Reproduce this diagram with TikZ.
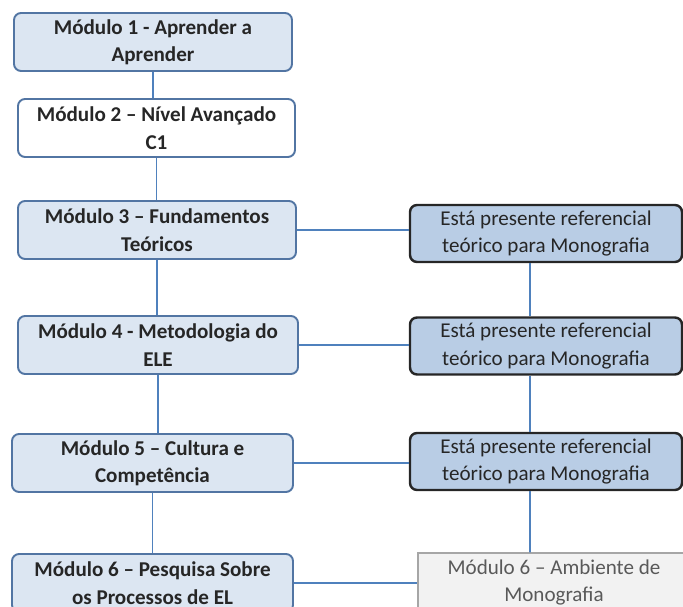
\documentclass[tikz,border=0pt]{standalone}
\usepackage{fontspec}
\setmainfont{Carlito}
\usetikzlibrary{positioning}
\definecolor{modfill}{HTML}{DCE6F2}
\definecolor{modedge}{HTML}{5275A3}
\definecolor{reffill}{HTML}{B9CDE5}
\definecolor{refedge}{HTML}{262626}
\definecolor{monofill}{HTML}{F2F2F2}
\definecolor{monoedge}{HTML}{A6A6A6}
\definecolor{linkblue}{HTML}{4F81BD}

\begin{document}
\begin{tikzpicture}[
    x=0.02cm, y=-0.02cm,
    % ── shared styles ──
    mod box/.style={draw=modedge, fill=modfill, line width=1.1pt,
        rounded corners=4pt, align=center, inner sep=2pt,
        font=\fontsize{12}{15.6}\selectfont\bfseries, text=black!85,
        minimum width=#1*0.02cm, minimum height=1.16cm},
    ref box/.style={draw=refedge, fill=reffill, line width=1.4pt,
        rounded corners=4pt, align=center, inner sep=2pt,
        font=\fontsize{12}{15.6}\selectfont, text=black!85,
        minimum width=272*0.02cm, minimum height=1.14cm},
    mono box/.style={draw=monoedge, fill=monofill, line width=0.6pt,
        align=center, inner sep=2pt,
        font=\fontsize{12}{15.6}\selectfont, text=black!65,
        minimum width=272*0.02cm, minimum height=1.18cm},
    link/.style={draw=linkblue, line width=1pt},
]

% ══════════════════════════════════════════════════════════════════════
%  FRAME — picture area, boxes run off the right and bottom edges
% ══════════════════════════════════════════════════════════════════════
\useasboundingbox (0,0) rectangle (683,607);
\clip (0,0) rectangle (683,607);

% ══════════════════════════════════════════════════════════════════════
%  MODULES (left column)
% ══════════════════════════════════════════════════════════════════════
\node[mod box=278] (m1) at (153,42)  {Módulo 1 - Aprender a\\Aprender};
\node[mod box=277, fill=white] (m2) at (156.5,128) {Módulo 2 – Nível Avançado\\C1};
\node[mod box=278] (m3) at (157,230) {Módulo 3 – Fundamentos\\Teóricos};
\node[mod box=280] (m4) at (158,345) {Módulo 4 - Metodologia do\\ELE};
\node[mod box=281] (m5) at (152.5,463) {Módulo 5 – Cultura e\\Competência};
\node[mod box=281] (m6) at (152.5,583) {Módulo 6 – Pesquisa Sobre\\os Processos de EL};

% ══════════════════════════════════════════════════════════════════════
%  MONOGRAPH COLUMN (right)
% ══════════════════════════════════════════════════════════════════════
\node[ref box] (r1) at (546,233.5) {Está presente referencial\\teórico para Monografia};
\node[ref box] (r2) at (546,346)   {Está presente referencial\\teórico para Monografia};
\node[ref box] (r3) at (546,461.5) {Está presente referencial\\teórico para Monografia};
\node[mono box] (r4) at (554,582.5) {Módulo 6 – Ambiente de\\Monografia};

% ══════════════════════════════════════════════════════════════════════
%  CONNECTORS
% ══════════════════════════════════════════════════════════════════════
\draw[link] (m1.south) -- (m1.south |- m2.north);
\draw[link] (m2.south) -- (m2.south |- m3.north);
\draw[link] (m3.south) -- (m3.south |- m4.north);
\draw[link] (m4.south) -- (m4.south |- m5.north);
\draw[link] (m5.south) -- (m5.south |- m6.north);

\draw[link] (m3.east) -- (m3.east -| r1.west);
\draw[link] (m4.east) -- (m4.east -| r2.west);
\draw[link] (m5.east) -- (m5.east -| r3.west);
\draw[link] (m6.east) -- (m6.east -| r4.west);

\draw[link] ([xshift=-0.32cm]r1.south) -- ([xshift=-0.32cm]r2.north);
\draw[link] ([xshift=-0.32cm]r2.south) -- ([xshift=-0.32cm]r3.north);
\draw[link] ([xshift=-0.32cm]r3.south) -- ([xshift=-0.48cm]r4.north);

\end{tikzpicture}
\end{document}
